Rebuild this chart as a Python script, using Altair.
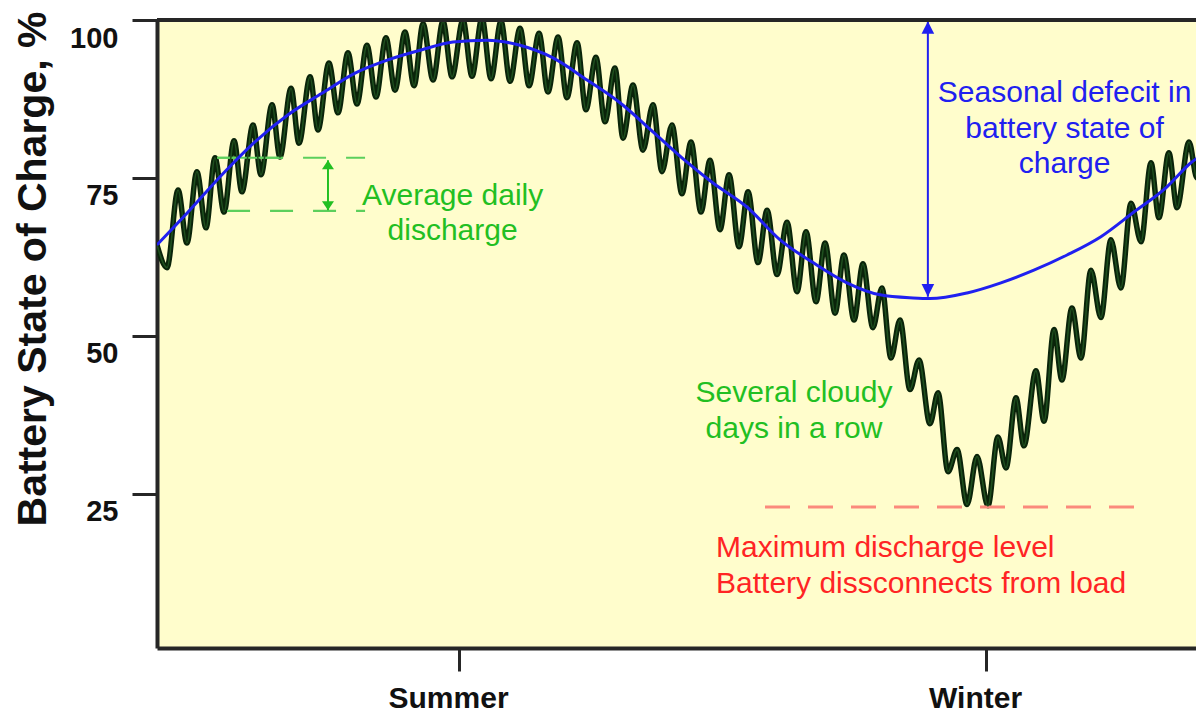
import altair as alt
import pandas as pd

# ---- data (x in "days", y in % state of charge) ----
day = [0, 0.53, 1.12, 1.59, 2.12, 2.60, 3.08, 3.56, 4.09, 4.51,
       5.10, 5.52, 6.11, 6.53, 7.12, 7.54, 8.13, 8.55, 9.13, 9.61,
       10.14, 10.62, 11.15, 11.63, 12.16, 12.64, 13.17, 13.65, 14.13, 14.66,
       15.19, 15.67, 16.25, 16.73, 17.26, 17.74, 18.27, 18.75, 19.28, 19.76,
       20.29, 20.76, 21.30, 21.77, 22.31, 22.78, 23.31, 23.79, 24.32, 24.75,
       25.28, 25.81, 26.34, 26.82, 27.35, 27.88, 28.36, 28.89, 29.37, 29.90,
       30.38, 30.91, 31.39, 31.92, 32.40, 32.93, 33.46, 33.99, 34.47, 35.00,
       35.48, 36.01, 36.48, 37.02, 37.49, 38.02, 38.50, 38.98, 39.46, 39.99,
       40.47, 41.05, 41.48, 42.01, 42.49, 43.02, 43.55, 44.13, 44.66, 45.09,
       45.62, 46.04, 46.68, 47.11, 47.64, 48.06, 48.59, 49.07, 49.60, 50.13,
       50.66, 51.19, 51.73, 52.26, 52.79, 53.21, 53.74, 54.17, 54.81, 55.23,
       55.92]
soc = [64.4, 60.8, 73.1, 64.7, 76.0, 67.1, 78.2, 69.6, 80.9, 72.8,
       83.4, 75.5, 86.6, 78.3, 89.2, 80.5, 91.0, 82.6, 93.2, 85.3,
       94.8, 86.7, 96.0, 87.8, 97.2, 88.9, 98.1, 89.6, 99.4, 90.5,
       99.8, 91.0, 100.0, 91.1, 100.3, 90.7, 99.8, 90.3, 98.7, 89.6,
       97.9, 88.6, 97.3, 87.7, 96.4, 85.8, 94.1, 83.9, 92.4, 81.3,
       89.7, 79.4, 86.6, 76.0, 83.4, 72.5, 80.7, 69.6, 77.8, 66.8,
       75.5, 64.1, 72.8, 61.6, 69.9, 59.7, 68.0, 57.0, 66.5, 55.4,
       64.7, 53.6, 62.8, 52.5, 61.4, 51.3, 57.6, 46.5, 52.5, 41.5,
       46.2, 36.1, 41.0, 28.5, 32.0, 23.3, 30.9, 23.1, 34.0, 29.1,
       40.2, 32.6, 44.5, 36.5, 51.0, 43.0, 54.4, 46.5, 60.4, 52.9,
       65.2, 57.6, 71.0, 64.9, 77.4, 68.7, 79.0, 70.3, 80.7, 75.0,
       88.1]

season_day = [0, 1.65, 3.45, 5.20, 6.96, 8.76, 10.52, 12.27, 14.07, 15.72,
              17.52, 19.28, 21.03, 22.84, 24.59, 26.34, 28.15, 29.53, 31.33, 33.09,
              34.84, 36.64, 38.40, 40.15, 41.05, 43.02, 44.82, 46.57, 48.33, 50.13,
              51.88, 53.64, 54.91, 55.92]
season_soc = [64.4, 69.6, 75.5, 80.7, 85.0, 88.4, 91.6, 93.7, 95.3, 96.5,
              96.8, 96.0, 94.0, 90.5, 86.9, 82.3, 77.5, 74.2, 70.4, 65.2,
              61.6, 58.4, 56.5, 56.0, 55.9, 56.8, 58.4, 60.4, 62.8, 65.7,
              69.6, 73.6, 77.4, 79.4]

season_ticks = [16.04, 44.03]
season_names = ["Summer", "Winter"]
y_ticks = [25, 50, 75, 100]

# annotation geometry (data units)
avg_upper = 78.2
avg_lower = 69.8
avg_upper_x = [3.19, 11.05]
avg_upper_solid_x = [3.19, 6.69]
avg_lower_x = [3.72, 11.05]
avg_arrow_x = 9.08
avg_arrow_y = [77.8, 69.9]

defect_arrow_x = 40.94
defect_arrow_y = [99.8, 56.2]

max_discharge = 22.9
max_discharge_x = [32.29, 52.10]

X_DOMAIN = [0, 55.18]
Y_DOMAIN = [0.6, 100]

FONT = "Liberation Sans"
GREEN_TXT = "#22bf22"
GREEN_LINE = "#5ccf5c"
BLUE = "#2020f0"
RED_TXT = "#ff2424"
RED_LINE = "#fb8a7c"
AXIS_C = "#262626"

xs = alt.Scale(domain=X_DOMAIN, nice=False, zero=False)
ys = alt.Scale(domain=Y_DOMAIN, nice=False, zero=False)

label_expr = f"datum.value < {(season_ticks[0] + season_ticks[1]) / 2} ? '{season_names[0]}' : '{season_names[1]}'"

x_axis = alt.Axis(values=season_ticks, labelExpr=label_expr, title="",
                  labelFont=FONT, labelFontSize=30, labelFontWeight="bold",
                  labelColor="#111111", labelBaseline="alphabetic",
                  tickSize=23, tickWidth=3, tickColor=AXIS_C,
                  labelPadding=36, labelOffset=-11,
                  domainWidth=4, domainColor=AXIS_C, grid=False)
y_axis = alt.Axis(values=y_ticks, title="Battery State of Charge, %",
                  titleFont=FONT, titleFontSize=41, titleFontWeight="bold",
                  titleColor="#111111", titleAngle=270, titleX=-112, titleY=248.5,
                  titleBaseline="alphabetic", titleAlign="center",
                  labelFont=FONT, labelFontSize=29, labelFontWeight="bold",
                  labelColor="#111111", labelOffset=18,
                  tickSize=25, tickWidth=3, tickColor=AXIS_C, labelPadding=14,
                  domainWidth=4, domainColor=AXIS_C, grid=False)

daily_df = pd.DataFrame({"x": day, "y": soc})
season_df = pd.DataFrame({"x": season_day, "y": season_soc})

# dark daily curve (outer + inner stroke)
daily_outer = alt.Chart(daily_df).mark_line(
    interpolate="monotone", clip=True, color="#0a240a", strokeWidth=5.5
).encode(x=alt.X("x:Q", scale=xs, axis=x_axis), y=alt.Y("y:Q", scale=ys, axis=y_axis))
daily_inner = alt.Chart(daily_df).mark_line(
    interpolate="monotone", clip=True, color="#1f4f1f", strokeWidth=1.6
).encode(x=alt.X("x:Q", scale=xs), y=alt.Y("y:Q", scale=ys))

season_line = alt.Chart(season_df).mark_line(
    interpolate="monotone", clip=True, color=BLUE, strokeWidth=3
).encode(x=alt.X("x:Q", scale=xs), y=alt.Y("y:Q", scale=ys))

# top border
top_df = pd.DataFrame({"x": [X_DOMAIN[0]], "x2": [X_DOMAIN[1]], "y": [Y_DOMAIN[1]]})
top_border = alt.Chart(top_df).mark_rule(color=AXIS_C, strokeWidth=4).encode(
    x=alt.X("x:Q", scale=xs), x2="x2:Q", y=alt.Y("y:Q", scale=ys))

# average daily discharge guides
avg_dash_df = pd.DataFrame({"x": [avg_upper_x[0], avg_lower_x[0]],
                            "x2": [avg_upper_x[1], avg_lower_x[1]],
                            "y": [avg_upper, avg_lower]})
avg_dash = alt.Chart(avg_dash_df).mark_rule(color=GREEN_LINE, strokeWidth=2.2, strokeDash=[23, 20]).encode(
    x=alt.X("x:Q", scale=xs), x2="x2:Q", y=alt.Y("y:Q", scale=ys))
avg_solid_df = pd.DataFrame({"x": [avg_upper_solid_x[0]], "x2": [avg_upper_solid_x[1]], "y": [avg_upper]})
avg_solid = alt.Chart(avg_solid_df).mark_rule(color=GREEN_LINE, strokeWidth=2.2).encode(
    x=alt.X("x:Q", scale=xs), x2="x2:Q", y=alt.Y("y:Q", scale=ys))

avg_arrow_df = pd.DataFrame({"x": [avg_arrow_x], "y": [avg_arrow_y[0]], "y2": [avg_arrow_y[1]]})
avg_arrow = alt.Chart(avg_arrow_df).mark_rule(color=GREEN_TXT, strokeWidth=2).encode(
    x=alt.X("x:Q", scale=xs), y=alt.Y("y:Q", scale=ys), y2="y2:Q")
UP = "M0,0L-1.2,1.8L1.2,1.8Z"
DOWN = "M0,0L-1.2,-1.8L1.2,-1.8Z"
avg_head_up = alt.Chart(pd.DataFrame({"x": [avg_arrow_x], "y": [avg_arrow_y[0]]})).mark_point(
    shape=UP, filled=True, size=100, color=GREEN_TXT, opacity=1, strokeWidth=0).encode(
    x=alt.X("x:Q", scale=xs), y=alt.Y("y:Q", scale=ys))
avg_head_dn = alt.Chart(pd.DataFrame({"x": [avg_arrow_x], "y": [avg_arrow_y[1]]})).mark_point(
    shape=DOWN, filled=True, size=100, color=GREEN_TXT, opacity=1, strokeWidth=0).encode(
    x=alt.X("x:Q", scale=xs), y=alt.Y("y:Q", scale=ys))

# seasonal defect arrow
BUP = "M0,0L-0.9,1.8L0.9,1.8Z"
BDOWN = "M0,0L-0.9,-1.8L0.9,-1.8Z"
def_arrow_df = pd.DataFrame({"x": [defect_arrow_x], "y": [defect_arrow_y[0]], "y2": [defect_arrow_y[1]]})
def_arrow = alt.Chart(def_arrow_df).mark_rule(color=BLUE, strokeWidth=2).encode(
    x=alt.X("x:Q", scale=xs), y=alt.Y("y:Q", scale=ys), y2="y2:Q")
def_head_up = alt.Chart(pd.DataFrame({"x": [defect_arrow_x], "y": [defect_arrow_y[0]]})).mark_point(
    shape=BUP, filled=True, size=196, color=BLUE, opacity=1, strokeWidth=0).encode(
    x=alt.X("x:Q", scale=xs), y=alt.Y("y:Q", scale=ys))
def_head_dn = alt.Chart(pd.DataFrame({"x": [defect_arrow_x], "y": [defect_arrow_y[1]]})).mark_point(
    shape=BDOWN, filled=True, size=196, color=BLUE, opacity=1, strokeWidth=0).encode(
    x=alt.X("x:Q", scale=xs), y=alt.Y("y:Q", scale=ys))

# maximum discharge level
red_df = pd.DataFrame({"x": [max_discharge_x[0]], "x2": [max_discharge_x[1]], "y": [max_discharge]})
red_line = alt.Chart(red_df).mark_rule(color=RED_LINE, strokeWidth=3, strokeDash=[25, 18]).encode(
    x=alt.X("x:Q", scale=xs), x2="x2:Q", y=alt.Y("y:Q", scale=ys))

# texts
center_text_df = pd.DataFrame({
    "x": [15.7, 15.7, 48.2, 48.2, 48.2, 33.83, 33.83],
    "y": [70.7, 65.2, 87.0, 81.3, 75.8, 39.6, 33.9],
    "text": ["Average daily", "discharge", "Seasonal defecit in", "battery state of",
             "charge", "Several cloudy", "days in a row"],
    "c": [GREEN_TXT, GREEN_TXT, BLUE, BLUE, BLUE, GREEN_TXT, GREEN_TXT],
})
center_text = alt.Chart(center_text_df).mark_text(
    font=FONT, fontSize=30, align="center", baseline="alphabetic").encode(
    x=alt.X("x:Q", scale=xs), y=alt.Y("y:Q", scale=ys), text="text:N",
    color=alt.Color("c:N", scale=None))

red_text_df = pd.DataFrame({
    "x": [29.69, 29.69],
    "y": [15.0, 9.3],
    "text": ["Maximum discharge level", "Battery dissconnects from load"],
})
red_text = alt.Chart(red_text_df).mark_text(
    font=FONT, fontSize=30, align="left", baseline="alphabetic", color=RED_TXT).encode(
    x=alt.X("x:Q", scale=xs), y=alt.Y("y:Q", scale=ys), text="text:N")

chart = alt.layer(
    daily_outer, avg_dash, avg_solid, red_line, daily_inner, season_line,
    avg_arrow, avg_head_up, avg_head_dn, def_arrow, def_head_up, def_head_dn,
    top_border, center_text, red_text
).properties(
    width=1039, height=628,
    autosize=alt.AutoSizeParams(type="none"),
    padding={"left": 149, "top": 12, "right": 0, "bottom": 68},
    background="white",
).configure_view(fill="#FFFDCC", stroke="transparent")

chart.save("out.html", embed_options={"renderer": "svg", "actions": False})
